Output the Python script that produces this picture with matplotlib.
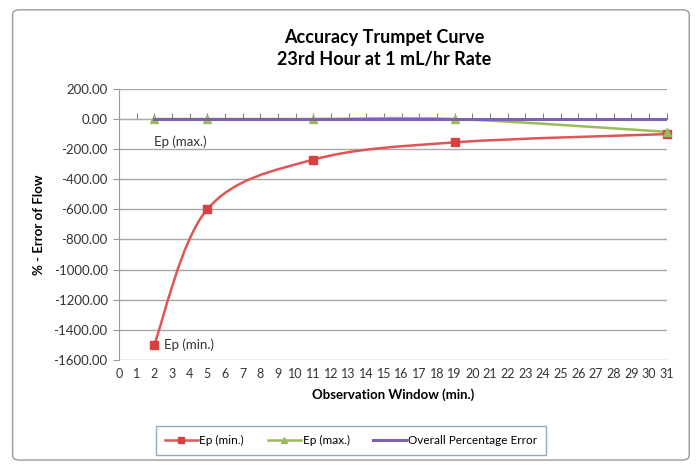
import numpy as np
import matplotlib.pyplot as plt
from matplotlib.path import Path
from matplotlib.patches import PathPatch, FancyBboxPatch
from matplotlib.lines import Line2D

plt.rcParams["font.family"] = ["Lato", "DejaVu Sans"]

# data
minutes = [2, 5, 11, 19, 31]
ep_min = [-1500, -600, -270, -155, -100]
ep_max = [0, 0, 0, 0, -85]
overall_x = [2, 31]
overall_err = [0, 0]

x_ticks = list(range(0, 32))
y_ticks = [200, 0, -200, -400, -600, -800, -1000, -1200, -1400, -1600]

red = "#E05555"
green = "#9BBB59"
purple = "#7E5FB0"


def smooth_path(xs, ys, t=1 / 6):
    # Excel-style smoothed line: cubic bezier segments through the points
    pts = np.column_stack([xs, ys]).astype(float)
    verts = [pts[0]]
    codes = [Path.MOVETO]
    n = len(pts)
    for i in range(n - 1):
        p0 = pts[i - 1] if i > 0 else pts[i]
        p1 = pts[i]
        p2 = pts[i + 1]
        p3 = pts[i + 2] if i + 2 < n else pts[i + 1]
        c1 = p1 + (p2 - p0) * t
        c2 = p2 - (p3 - p1) * t
        verts += [c1, c2, p2]
        codes += [Path.CURVE4] * 3
    return Path(verts, codes)


fig = plt.figure(figsize=(6.99, 4.68), dpi=100)
border = FancyBboxPatch((0.018, 0.017), 0.968, 0.962,
                        boxstyle="round,pad=0,rounding_size=0.01",
                        transform=fig.transFigure, facecolor="none",
                        edgecolor="#9a9a9a", linewidth=1.0)
fig.add_artist(border)

ax = fig.add_axes([0.170, 0.231, 0.784, 0.579])
ax.set_facecolor("none")
ax.set_xlim(0, 31)
ax.set_ylim(-1600, 200)

ax.set_yticks(y_ticks)
ax.set_yticklabels([f"{v:.2f}" for v in y_ticks])
ax.set_xticks(x_ticks)
ax.grid(axis="y", color="#a8a8a8", linewidth=1.0)
ax.set_axisbelow(True)
for side in ["top", "right", "bottom"]:
    ax.spines[side].set_visible(False)
ax.spines["left"].set_color("#9a9a9a")
ax.tick_params(axis="y", direction="out", length=4, color="#9a9a9a",
               labelsize=9.5, labelcolor="#333333", pad=4)
ax.tick_params(axis="x", length=0, labelsize=9, labelcolor="#333333", pad=6)

# horizontal axis crossing at y=0 with its tick marks
sec = ax.secondary_xaxis(1600 / 1800)
sec.set_xticks(x_ticks)
sec.tick_params(axis="x", direction="out", length=4, color="#808080", labelbottom=False,
                labeltop=False)
sec.spines["bottom"].set_visible(False)
sec.spines["top"].set_color("#808080")

ax.add_patch(PathPatch(smooth_path(minutes, ep_min), facecolor="none", edgecolor=red,
                       linewidth=1.8, zorder=3))
ax.plot(minutes, ep_min, linestyle="none", marker="s", markersize=6, color="#D94040",
        zorder=4, clip_on=False)
ax.add_patch(PathPatch(smooth_path(minutes, ep_max), facecolor="none", edgecolor=green,
                       linewidth=1.8, zorder=3))
ax.plot(minutes, ep_max, linestyle="none", marker="^", markersize=6, color=green,
        zorder=4, clip_on=False)
ax.plot(overall_x, overall_err, color=purple, linewidth=2.2, zorder=5)

ax.annotate("Ep (max.)", (minutes[0], ep_max[0]), xytext=(0, -12), textcoords="offset points",
            fontsize=9.5, color="#333333", va="top", ha="left")
ax.annotate("Ep (min.)", (minutes[0], ep_min[0]), xytext=(7, 0), textcoords="offset points",
            fontsize=9.5, color="#333333", va="center", ha="left")

ax.set_xlabel("Observation Window (min.)", fontsize=9.5, fontweight="bold", labelpad=6)
ax.set_ylabel("% - Error of Flow", fontsize=9.5, fontweight="bold", labelpad=6)
fig.text(0.550, 0.897, "Accuracy Trumpet Curve\n23rd Hour at 1 mL/hr Rate",
         ha="center", va="center", fontsize=13, fontweight="bold", linespacing=1.35)

handles = [
    Line2D([], [], color=red, linewidth=1.8, marker="s", markersize=4,
           markerfacecolor="#D94040", markeredgecolor="#D94040"),
    Line2D([], [], color=green, linewidth=1.8, marker="^", markersize=4),
    Line2D([], [], color=purple, linewidth=2.2),
]
leg = fig.legend(handles, ["Ep (min.)", "Ep (max.)", "Overall Percentage Error"],
                 loc="center", bbox_to_anchor=(0.502, 0.058), ncol=3, fontsize=8.5,
                 frameon=True, fancybox=False, handlelength=2.8, handletextpad=0.15,
                 columnspacing=2.0, borderpad=0.75)
leg.get_frame().set_edgecolor("#7f93b5")
leg.get_frame().set_linewidth(1.0)

fig.savefig("out.png", dpi=100)
